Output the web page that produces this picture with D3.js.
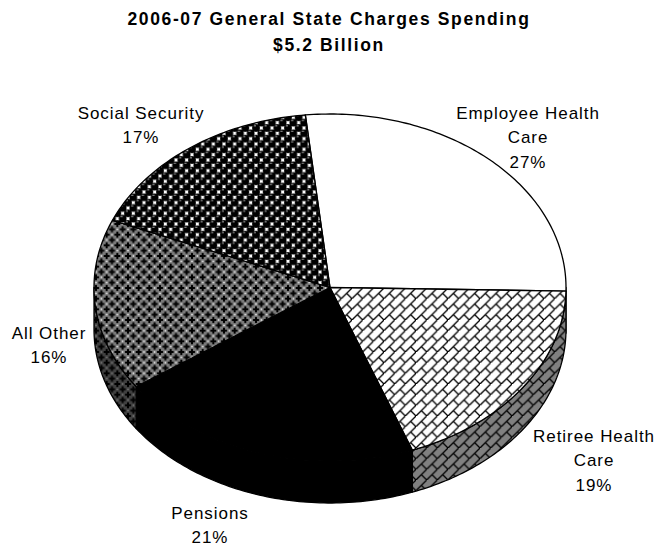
<!DOCTYPE html>
<html>
<head>
<meta charset="utf-8">
<script src="https://cdn.jsdelivr.net/npm/d3@7"></script>
<style>
  html, body { margin: 0; padding: 0; background: #fff; }
  svg { display: block; }
  text { font-family: "Liberation Sans", Arial, sans-serif; fill: #000; }
</style>
</head>
<body>
<script>
const categories = ["Employee Health Care", "Retiree Health Care", "Pensions", "All Other", "Social Security"];
const shares = [27, 19, 21, 16, 17];
const fills = ["plain", "brick", "solid", "lattice", "spheres"];
const titleLines = ["2006-07 General State Charges Spending", "$5.2 Billion"];
const labelLines = [
  ["Employee Health", "Care", "27%"],
  ["Retiree Health", "Care", "19%"],
  ["Pensions", "21%"],
  ["All Other", "16%"],
  ["Social Security", "17%"]
];
const labelAnchors = [[528, 119], [594, 442], [210, 519], [49, 339], [141, 119]];

const width = 670, height = 548;
const depth = 42;
const tile = 32 / 3;

const svg = d3.select("body").append("svg").attr("width", width).attr("height", height);
const defs = svg.append("defs");

function newTile(id, bg) {
  const p = defs.append("pattern").attr("id", id)
    .attr("patternUnits", "userSpaceOnUse")
    .attr("width", tile).attr("height", tile);
  p.append("rect").attr("width", tile).attr("height", tile).attr("fill", bg);
  return p;
}

// Diagonal brick: one long rising course per tile plus a short staggered header.
function brickTile(id, bg) {
  const p = newTile(id, bg);
  const s = tile;
  p.append("path")
    .attr("d", `M-1,${s + 1}L${s + 1},-1M${s / 2},${s / 2}L${s},${s}M0,0L${-1},${-1}`)
    .attr("fill", "none").attr("stroke", "#000").attr("stroke-width", 1.35);
}

// Lattice: black crosses on a mid tone with small light dots in the gaps.
function latticeTile(id, bg, dot, ink) {
  const p = newTile(id, bg);
  const h = tile / 2;
  const cross = (x, y) => {
    p.append("rect").attr("x", x - 3).attr("y", y - 1).attr("width", 6).attr("height", 2).attr("fill", ink);
    p.append("rect").attr("x", x - 1).attr("y", y - 3).attr("width", 2).attr("height", 6).attr("fill", ink);
  };
  [[0, 0], [tile, 0], [0, tile], [tile, tile], [h, h]].forEach(c => cross(c[0], c[1]));
  [[h, 0], [h, tile], [0, h], [tile, h]].forEach(c =>
    p.append("rect").attr("x", c[0] - 0.7).attr("y", c[1] - 0.7).attr("width", 1.4).attr("height", 1.4).attr("fill", dot));
}

// Spheres: staggered black balls with a small highlight on white.
function sphereTile(id) {
  const p = newTile(id, "#fff");
  const h = tile / 2;
  [[0, 0], [tile, 0], [0, tile], [tile, tile], [h, h]].forEach(c => {
    p.append("circle").attr("cx", c[0]).attr("cy", c[1]).attr("r", 3.9).attr("fill", "#000");
    p.append("rect").attr("x", c[0] - 2.2).attr("y", c[1] - 2.6).attr("width", 2.2).attr("height", 1).attr("fill", "#aaa");
  });
}

brickTile("top-brick", "#fff");
brickTile("side-brick", "#808080");
latticeTile("top-lattice", "#7a7a7a", "#fff", "#000");
latticeTile("side-lattice", "#404040", "#808080", "#000");
sphereTile("top-spheres");

const topFill = { plain: "#fff", brick: "url(#top-brick)", solid: "#000", lattice: "url(#top-lattice)", spheres: "url(#top-spheres)" };
const sideFill = { plain: "#808080", brick: "url(#side-brick)", solid: "#000", lattice: "url(#side-lattice)", spheres: "#808080" };

const x = d3.scaleLinear().domain([-1, 1]).range([94, 566]);
const y = d3.scaleLinear().domain([-1, 1]).range([114, 461]);

const rad = Math.PI / 180;
const pie = d3.pie().sort(null).startAngle(-6 * rad).endAngle(354 * rad);
const slices = pie(shares);

const rimPoint = (a, drop) => [x(Math.sin(a)), y(-Math.cos(a)) + drop];
const sweep = (a0, a1) => {
  const n = Math.max(2, Math.ceil((a1 - a0) / rad));
  return d3.range(n + 1).map(i => a0 + (a1 - a0) * i / n);
};
const line = d3.line();

// Front wall of the disc: only the part of each slice facing the viewer.
const front = [90 * rad, 270 * rad];
const walls = svg.append("g");
slices.forEach((s, i) => {
  const a0 = Math.max(s.startAngle, front[0]);
  const a1 = Math.min(s.endAngle, front[1]);
  if (a1 <= a0) return;
  const ring = sweep(a0, a1);
  const pts = ring.map(a => rimPoint(a, 0)).concat(ring.slice().reverse().map(a => rimPoint(a, depth)));
  walls.append("path")
    .attr("d", line(pts) + "Z")
    .attr("fill", sideFill[fills[i]])
    .attr("stroke", "#000").attr("stroke-width", 1.3).attr("stroke-linejoin", "round");
});

// Upper face of the disc.
const faces = svg.append("g");
slices.forEach((s, i) => {
  const pts = [[x(0), y(0)]].concat(sweep(s.startAngle, s.endAngle).map(a => rimPoint(a, 0)));
  faces.append("path")
    .attr("d", line(pts) + "Z")
    .attr("fill", topFill[fills[i]])
    .attr("stroke", "#000").attr("stroke-width", 1.3).attr("stroke-linejoin", "round");
});

// Title.
svg.append("g").selectAll("text").data(titleLines).join("text")
  .attr("x", 329).attr("y", (d, i) => 25 + i * 26)
  .attr("text-anchor", "middle")
  .attr("font-size", 17.5).attr("font-weight", "bold").attr("letter-spacing", 1.62)
  .text(d => d);

// Slice labels.
const labels = svg.append("g");
labelLines.forEach((rows, i) => {
  rows.forEach((row, j) => {
    labels.append("text")
      .attr("x", labelAnchors[i][0])
      .attr("y", labelAnchors[i][1] + j * 24.3)
      .attr("text-anchor", "middle")
      .attr("font-size", 17).attr("letter-spacing", 0.95)
      .text(row);
  });
});
</script>
</body>
</html>
